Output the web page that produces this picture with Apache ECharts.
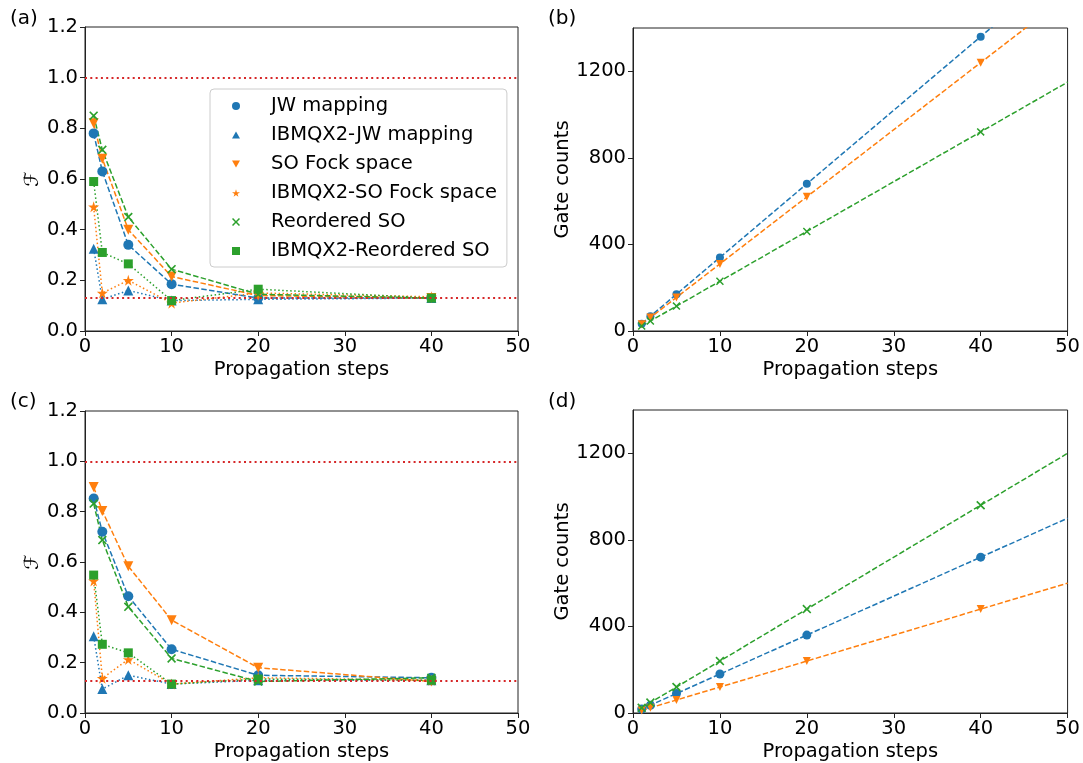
<!DOCTYPE html>
<html>
<head>
<meta charset="utf-8">
<script src="https://cdn.jsdelivr.net/npm/echarts@6/dist/echarts.min.js"></script>
<style>
  html, body { margin: 0; padding: 0; background: #fff; }
  #chart { width: 1083px; height: 763px; }
</style>
</head>
<body>
<div id="chart"></div>
<script>
// propagation steps used in all panels
var steps = [1, 2, 5, 10, 20, 40];
var lineSteps = [1, 2, 5, 10, 20, 40, 50];

// panel (a) fidelity
var a_jw = [0.78, 0.63, 0.34, 0.185, 0.13, 0.13];
var a_ibmJw = [0.325, 0.125, 0.16, 0.12, 0.125, 0.13];
var a_so = [0.82, 0.68, 0.40, 0.215, 0.14, 0.13];
var a_ibmSo = [0.49, 0.15, 0.20, 0.11, 0.15, 0.135];
var a_re = [0.85, 0.715, 0.45, 0.244, 0.145, 0.13];
var a_ibmRe = [0.59, 0.31, 0.265, 0.12, 0.165, 0.13];

// panel (c) fidelity
var c_jw = [0.852, 0.72, 0.464, 0.253, 0.15, 0.14];
var c_ibmJw = [0.305, 0.095, 0.15, 0.115, 0.13, 0.13];
var c_so = [0.898, 0.803, 0.583, 0.369, 0.18, 0.125];
var c_ibmSo = [0.525, 0.138, 0.213, 0.115, 0.14, 0.13];
var c_re = [0.832, 0.687, 0.422, 0.217, 0.125, 0.14];
var c_ibmRe = [0.548, 0.273, 0.239, 0.115, 0.135, 0.13];

// reference levels (red dotted)
var refLevels = [1.0, 0.125];

// panel (b) gate counts (last value is the line end at 50)
var b_jw = [34, 68, 170, 340, 680, 1360, 1700];
var b_so = [31, 62, 155, 310, 620, 1240, 1550];
var b_re = [23, 46, 115, 230, 460, 920, 1150];

// panel (d) gate counts
var d_jw = [18, 36, 90, 180, 360, 720, 900];
var d_so = [12, 24, 60, 120, 240, 480, 600];
var d_re = [24, 48, 120, 240, 480, 960, 1200];

var fidTicks = [0, 1.2, 0.2];
var gateTicks = [0, 1400, 400];

var BLUE = '#1f77b4', ORANGE = '#ff7f0e', GREEN = '#2ca02c', RED = '#d62728';
var FONT = 'DejaVu Sans';
var FS = 19.5;

var DOWN = 'path://M0,0 L10,0 L5,9 Z';
var UP = 'path://M5,0 L10,9 L0,9 Z';
var STAR = 'path://M50,0 L61,35 L98,35 L68,57 L79,91 L50,70 L21,91 L32,57 L2,35 L39,35 Z';
var CROSS = 'path://M0,1.3 L1.3,0 L5,3.7 L8.7,0 L10,1.3 L6.3,5 L10,8.7 L8.7,10 L5,6.3 L1.3,10 L0,8.7 L3.7,5 Z';

var DASH = [5.5, 2.4];
var DOT = [1.5, 2.5];

var chart = echarts.init(document.getElementById('chart'));

var grids = [
  {left: 85, top: 27, width: 433, height: 304},
  {left: 633, top: 28, width: 435, height: 303},
  {left: 85, top: 411, width: 433, height: 302},
  {left: 633, top: 410, width: 435, height: 303}
];
grids.forEach(function (g) {
  g.show = true;
  g.borderColor = '#222';
  g.borderWidth = 1;
  g.backgroundColor = 'transparent';
});

function xAxis(idx) {
  return {
    type: 'value', gridIndex: idx, min: 0, max: 50, interval: 10,
    name: 'Propagation steps', nameLocation: 'middle', nameGap: 29,
    nameTextStyle: {fontSize: FS, color: '#000', fontFamily: FONT},
    axisLine: {show: true, onZero: false, lineStyle: {color: '#222'}},
    axisTick: {show: true, length: 5, lineStyle: {color: '#222'}},
    axisLabel: {fontSize: FS, color: '#000', fontFamily: FONT, margin: 6},
    splitLine: {show: false}
  };
}

function yAxis(idx, ticks, name, gap, digits) {
  return {
    type: 'value', gridIndex: idx, min: ticks[0], max: ticks[1], interval: ticks[2],
    name: name, nameLocation: 'middle', nameGap: gap, nameRotate: 90,
    nameTextStyle: {fontSize: FS, color: '#000', fontFamily: FONT, fontStyle: digits ? 'italic' : 'normal'},
    axisLine: {show: true, lineStyle: {color: '#222'}},
    axisTick: {show: true, length: 5, lineStyle: {color: '#222'}},
    axisLabel: {
      fontSize: FS, color: '#000', fontFamily: FONT, margin: 7, showMaxLabel: digits > 0,
      formatter: function (v) { return digits ? v.toFixed(digits) : String(Math.round(v)); }
    },
    splitLine: {show: false}
  };
}

function fid(idx, name, vals, color, symbol, size, dash) {
  return {
    type: 'line', name: name, xAxisIndex: idx, yAxisIndex: idx,
    data: steps.map(function (s, i) { return [s, vals[i]]; }),
    symbol: symbol, symbolSize: size, showSymbol: true,
    lineStyle: {color: color, width: 1.5, type: dash},
    itemStyle: {color: color},
    z: 3
  };
}

function gate(idx, name, vals, color, symbol, size) {
  return {
    type: 'line', name: name, xAxisIndex: idx, yAxisIndex: idx,
    data: lineSteps.map(function (s, i) {
      var d = {value: [s, vals[i]]};
      if (i === lineSteps.length - 1) d.symbol = 'none';
      return d;
    }),
    symbol: symbol, symbolSize: size, clip: true,
    lineStyle: {color: color, width: 1.5, type: DASH},
    itemStyle: {color: color}
  };
}

function refLine(idx) {
  return {
    type: 'line', name: 'ref' + idx, xAxisIndex: idx, yAxisIndex: idx,
    data: [], symbol: 'none',
    markLine: {
      silent: true, symbol: 'none', label: {show: false},
      lineStyle: {color: RED, width: 2, type: [2, 3.3]},
      data: refLevels.map(function (v) { return {yAxis: v}; })
    },
    z: 2
  };
}

function fidPanel(idx, v) {
  return [
    refLine(idx),
    fid(idx, 'JW mapping', v[0], BLUE, 'circle', 10, DASH),
    fid(idx, 'IBMQX2-JW mapping', v[1], BLUE, UP, 10, DOT),
    fid(idx, 'SO Fock space', v[2], ORANGE, DOWN, 10, DASH),
    fid(idx, 'IBMQX2-SO Fock space', v[3], ORANGE, STAR, 11, DOT),
    fid(idx, 'Reordered SO', v[4], GREEN, CROSS, 9, DASH),
    fid(idx, 'IBMQX2-Reordered SO', v[5], GREEN, 'rect', 9, DOT)
  ];
}

var series = []
  .concat(fidPanel(0, [a_jw, a_ibmJw, a_so, a_ibmSo, a_re, a_ibmRe]))
  .concat(fidPanel(2, [c_jw, c_ibmJw, c_so, c_ibmSo, c_re, c_ibmRe]))
  .concat([
    gate(1, 'b-jw', b_jw, BLUE, 'circle', 8),
    gate(1, 'b-so', b_so, ORANGE, DOWN, 8),
    gate(1, 'b-re', b_re, GREEN, CROSS, 8),
    gate(3, 'd-jw', d_jw, BLUE, 'circle', 9),
    gate(3, 'd-so', d_so, ORANGE, DOWN, 8),
    gate(3, 'd-re', d_re, GREEN, CROSS, 9)
  ]);

var legendItems = [
  {name: 'JW mapping', icon: 'circle'},
  {name: 'IBMQX2-JW mapping', icon: UP},
  {name: 'SO Fock space', icon: DOWN},
  {name: 'IBMQX2-SO Fock space', icon: STAR},
  {name: 'Reordered SO', icon: CROSS},
  {name: 'IBMQX2-Reordered SO', icon: 'rect'}
];

function panelTitle(t, x, y) {
  return {text: t, left: x, top: y, textStyle: {fontSize: 20, fontWeight: 'normal', color: '#000', fontFamily: FONT}};
}

var options = {
  animation: false,
  backgroundColor: '#fff',
  title: [
    panelTitle('(a)', 5, 4),
    panelTitle('(b)', 543, 4),
    panelTitle('(c)', 5, 387),
    panelTitle('(d)', 543, 387)
  ],
  grid: grids,
  xAxis: [xAxis(0), xAxis(1), xAxis(2), xAxis(3)],
  yAxis: [
    yAxis(0, fidTicks, 'ℱ', 40, 1),
    yAxis(1, gateTicks, 'Gate counts', 57, 0),
    yAxis(2, fidTicks, 'ℱ', 40, 1),
    yAxis(3, gateTicks, 'Gate counts', 57, 0)
  ],
  legend: {
    data: legendItems,
    orient: 'vertical',
    left: 210, top: 89,
    itemWidth: 8, itemHeight: 8, itemGap: 9,
    selectedMode: false,
    padding: [7, 10, 6, 22],
    backgroundColor: 'rgba(255,255,255,0.8)',
    borderColor: '#ccc', borderWidth: 1, borderRadius: 4,
    textStyle: {fontSize: FS, color: '#000', fontFamily: FONT, lineHeight: 20, padding: [0, 0, 0, 26]}
  },
  series: series
};

chart.setOption(options);
</script>
</body>
</html>
